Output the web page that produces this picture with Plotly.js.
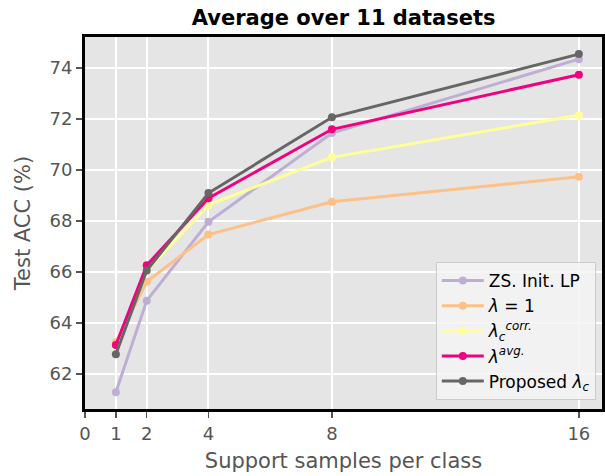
<!DOCTYPE html>
<html><head><meta charset="utf-8">
<script src="https://cdn.plot.ly/plotly-3.0.1.min.js"></script>
<style>html,body{margin:0;padding:0;background:#fff}</style>
</head><body><div id="chart" style="width:605px;height:476px"></div>
<script>
const shots = [1, 2, 4, 8, 16];
const tickVals = [0, 1, 2, 4, 8, 16];
const seriesNames = ["ZS. Init. LP", "<i>λ</i> = 1", "<i>λ</i><sub><i>c</i></sub><sup><i>corr.</i></sup>", "<i>λ</i><sup><i>avg.</i></sup>", "Proposed <i>λ</i><sub><i>c</i></sub>"];
const zsInitLP = [61.29, 64.88, 67.97, 71.45, 74.35];
const lambdaOne = [63.25, 65.62, 67.47, 68.76, 69.74];
const lambdaCorr = [63.05, 66.05, 68.63, 70.50, 72.15];
const lambdaAvg = [63.14, 66.27, 68.90, 71.60, 73.74];
const proposed = [62.78, 66.06, 69.10, 72.07, 74.55];
const colors = ["#beaed4", "#fdc086", "#ffff99", "#f0027f", "#666666"];
const allSeries = [zsInitLP, lambdaOne, lambdaCorr, lambdaAvg, proposed];

const traces = allSeries.map((ys, i) => ({
  x: shots, y: ys, name: seriesNames[i], type: "scatter", mode: "lines+markers",
  line: {color: colors[i], width: 3}, marker: {color: colors[i], size: 8}
}));

const layout = {
  width: 605, height: 476,
  margin: {l: 85, r: 3, t: 37, b: 67},
  paper_bgcolor: "#ffffff", plot_bgcolor: "#e5e5e5",
  font: {family: "DejaVu Sans", color: "#555555", size: 18},
  title: {text: "<b>Average over 11 datasets</b>", font: {size: 21, color: "#000000"}, x: 0.568, xanchor: "center", y: 0.962, yanchor: "middle"},
  xaxis: {
    range: [0, 16.75], tickvals: tickVals, ticktext: tickVals.map(String),
    showgrid: true, gridcolor: "#ffffff", gridwidth: 2, zeroline: false,
    showline: true, linecolor: "#000000", linewidth: 3, mirror: true,
    ticks: "outside", ticklen: 6, tickcolor: "#555555", tickwidth: 1.5, tickfont: {size: 18},
    title: {text: "Support samples per class", font: {size: 21}, standoff: 11}
  },
  yaxis: {
    range: [60.63, 75.22], tickvals: [62, 64, 66, 68, 70, 72, 74],
    showgrid: true, gridcolor: "#ffffff", gridwidth: 2, zeroline: false,
    showline: true, linecolor: "#000000", linewidth: 3, mirror: true,
    ticks: "outside", ticklen: 6, tickcolor: "#555555", tickwidth: 1.5, tickfont: {size: 18},
    title: {text: "Test ACC (%)", font: {size: 21}, standoff: 14}
  },
  legend: {
    x: 0.988, y: 0.024, xanchor: "right", yanchor: "bottom",
    bgcolor: "rgba(245,245,245,0.85)", bordercolor: "#cccccc", borderwidth: 1,
    font: {size: 17, color: "#000000"}, tracegroupgap: 0, itemwidth: 42
  },
  showlegend: true
};
Plotly.newPlot("chart", traces, layout, {displayModeBar: false, staticPlot: true});
</script></body></html>
